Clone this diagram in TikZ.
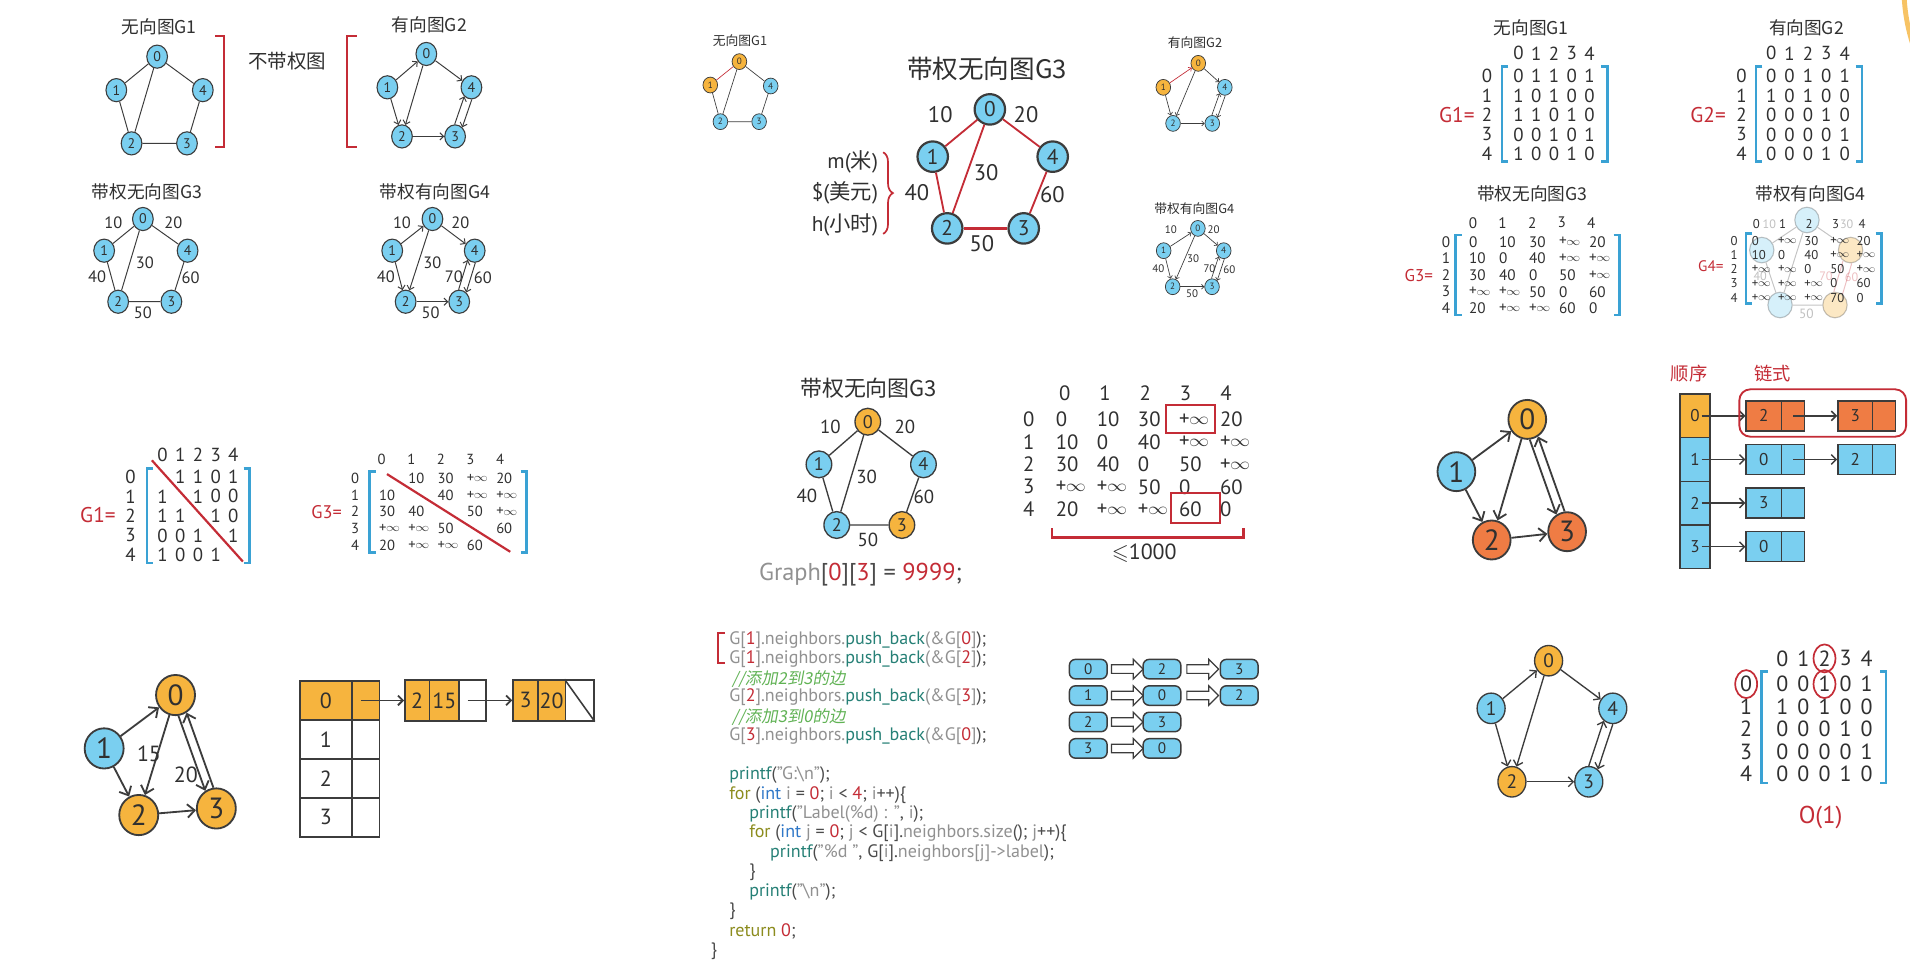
\documentclass[tikz,border=0pt]{standalone}
\usepackage{fontspec}
\usepackage{amssymb}
\usepackage{graphicx}
\setmainfont{PT Sans}
\newfontfamily\cjk{Noto Sans CJK SC}
\newfontfamily\cjki[FakeSlant=0.18]{Noto Sans CJK SC}
\usetikzlibrary{arrows.meta,shapes.geometric,shapes.arrows,calc,decorations.pathreplacing}
\definecolor{nb}{RGB}{122,207,240}
\definecolor{no}{RGB}{246,180,62}
\definecolor{nr}{RGB}{239,124,68}
\definecolor{rd}{RGB}{196,44,54}
\definecolor{bb}{RGB}{58,162,212}
\definecolor{tx}{RGB}{48,48,48}
\definecolor{ln}{RGB}{60,60,60}
\definecolor{cgr}{RGB}{145,145,145}
\definecolor{ctl}{RGB}{38,128,118}
\definecolor{cgn}{RGB}{96,178,84}
\definecolor{cbl}{RGB}{48,120,200}
\definecolor{col}{RGB}{140,140,30}
\definecolor{cdk}{RGB}{75,75,75}
\newcommand\fsz[1]{\fontsize{#1}{#1}\selectfont}
\newcommand\pinf{+\kern-0.3pt\raisebox{0.1ex}{\scalebox{0.95}[0.8]{$\infty$}}}
\newcommand\bl{}
\newcommand\kG[1]{\textcolor{cgr}{#1}}
\newcommand\kR[1]{\textcolor{rd}{#1}}
\newcommand\kT[1]{\textcolor{ctl}{#1}}
\newcommand\kB[1]{\textcolor{cbl}{#1}}
\newcommand\kO[1]{\textcolor{col}{#1}}
\newcommand\kD[1]{\textcolor{cdk}{#1}}
\newcommand\mtx[6]{%
  \foreach \rw [count=\ri from 0] in {#6}{%
    \foreach \ee [count=\ci from 0] in \rw {%
      \node[mc] (#1\ri\ci) at ({#2+\ci*#3},{#4+\ri*#5}) {\ee};
    }%
  }%
}
\newcommand\hdr[7]{%
  \foreach \kk in {0,...,4}{%
    \node[mh] (#1c\kk) at ({#2+\kk*#3},#4) {\kk};
    \node[mh] (#1r\kk) at (#5,{#6+\kk*#7}) {\kk};
  }%
}
\newcommand\brk[4]{\draw[bb,line width=2pt] ({#1+5},#3)--(#1,#3)--(#1,#4)--({#1+5},#4) ({#2-5},#3)--(#2,#3)--(#2,#4)--({#2-5},#4);}
\begin{document}
\begin{tikzpicture}[x=1pt,y=-1pt,
  gA/.style={ellipse,draw=ln,fill=nb,line width=0.9pt,minimum width=17pt,minimum height=19pt,inner sep=0pt,font=\fsz{11.5},text=tx},
  gS/.style={ellipse,draw=ln,fill=nb,line width=0.6pt,minimum width=12pt,minimum height=13pt,inner sep=0pt,font=\fsz{7.5},text=tx},
  gB/.style={circle,draw=ln,fill=nb,line width=1.8pt,minimum size=25pt,inner sep=0pt,font=\fsz{17.5},text=tx},
  gM/.style={ellipse,draw=ln,fill=nb,line width=1.1pt,minimum width=21pt,minimum height=22pt,inner sep=0pt,font=\fsz{15},text=tx},
  gL/.style={ellipse,draw=ln,fill=nb,line width=1.5pt,minimum width=31pt,minimum height=32pt,inner sep=0pt,font=\fsz{24},text=tx},
  gR/.style={ellipse,draw=ln,fill=nb,line width=1.1pt,minimum width=23pt,minimum height=25pt,inner sep=0pt,font=\fsz{16},text=tx},
  eA/.style={draw=ln,line width=0.8pt},
  eS/.style={draw=ln,line width=0.55pt},
  eM/.style={draw=ln,line width=1.1pt},
  eL/.style={draw=ln,line width=1.5pt},
  arS/.style={-{Straight Barb[length=2pt,width=4pt]}},
  arA/.style={-{Straight Barb[length=3pt,width=6pt]}},
  arM/.style={-{Straight Barb[length=4pt,width=8pt]}},
  arL/.style={-{Straight Barb[length=6pt,width=11pt]}},
  lab/.style={inner sep=0pt,text=tx,font=\fsz{13.5}},
  ttl/.style={inner sep=0pt,text=tx,font=\cjk\fsz{14.5}},
  eq/.style={inner sep=0pt,text=rd,font=\fsz{17.5}}]
\useasboundingbox (0,0) rectangle (1568,800);
\fill[white] (0,0) rectangle (1568,800);
\begin{scope}
\clip (0,0) rectangle (1568,800);
\draw[no,line width=4pt,opacity=0.8] (1713,-10) circle (150);
\end{scope}

% ================= Panel A: four graphs top-left
\node[ttl] (tA1) at (130.7,21.9) {无向图G1};
\node[ttl] (tA2) at (352.5,20.5) {有向图G2};
\node[ttl,font=\cjk\fsz{16}] (tA0) at (236,50.6) {不带权图};
\draw[rd,line width=1.6pt] (176.6,29.6)--(183.8,29.6)--(183.8,120.4)--(176.6,120.4);
\draw[rd,line width=1.6pt] (293,29.6)--(284.8,29.6)--(284.8,120.4)--(293,120.4);
\node[gA] (a0) at (129,46.5) {0};
\node[gA] (a1) at (95.5,74) {1};
\node[gA] (a4) at (166.5,74) {4};
\node[gA] (a2) at (108,117.7) {2};
\node[gA] (a3) at (153.5,117.7) {3};
\draw[eA] (a0)--(a1) (a0)--(a4) (a0)--(a2) (a1)--(a2) (a2)--(a3) (a3)--(a4);
\node[gA] (b0) at (350,44.3) {0};
\node[gA] (b1) at (318,71.7) {1};
\node[gA] (b4) at (387,71.7) {4};
\node[gA] (b2) at (330,112) {2};
\node[gA] (b3) at (373.6,112) {3};
\draw[eA,arA] (b1)--(b0);
\draw[eA,arA] (b0)--(b4);
\draw[eA,arA] (b0)--(b2);
\draw[eA,arA] (b1)--(b2);
\draw[eA,arA] (b2)--(b3);
\draw[eA,arA] (b3.92)--(b4.232);
\draw[eA,arA] (b4.272)--(b3.52);
\node[ttl] (tA3) at (120.6,157.4) {带权无向图G3};
\node[gA] (c0) at (117.3,179.8) {0};
\node[gA] (c1) at (85.5,205.8) {1};
\node[gA] (c4) at (154,205.8) {4};
\node[gA] (c2) at (97,247.7) {2};
\node[gA] (c3) at (140.7,247.7) {3};
\draw[eA] (c0)--(c1) (c0)--(c4) (c0)--(c2) (c1)--(c2) (c2)--(c3) (c3)--(c4);
\node[lab] (lc01) at (93,182.8) {10};
\node[lab] (lc04) at (142.4,182.8) {20};
\node[lab] (lc02) at (119,216) {30};
\node[lab] (lc12) at (79.8,227) {40};
\node[lab] (lc34) at (156.5,227.7) {60};
\node[lab] (lc23) at (117.3,256.5) {50};
\node[ttl] (tA4) at (357,157.4) {带权有向图G4};
\node[gA] (d0) at (355,179.8) {0};
\node[gA] (d1) at (322,205.8) {1};
\node[gA] (d4) at (389.7,205.8) {4};
\node[gA] (d2) at (333,247.7) {2};
\node[gA] (d3) at (377,247.7) {3};
\draw[eA,arA] (d1)--(d0);
\draw[eA,arA] (d0)--(d4);
\draw[eA,arA] (d0)--(d2);
\draw[eA,arA] (d1)--(d2);
\draw[eA,arA] (d2)--(d3);
\draw[eA,arA] (d3.93)--(d4.233);
\draw[eA,arA] (d4.273)--(d3.53);
\node[lab] (ld10) at (330,182.8) {10};
\node[lab] (ld04) at (378,182.8) {20};
\node[lab] (ld02) at (355,216) {30};
\node[lab] (ld12) at (316.7,227) {40};
\node[lab] (ld34) at (372.6,227) {70};
\node[lab] (ld43) at (396.4,227.7) {60};
\node[lab] (ld23) at (353.5,256.5) {50};

% ================= Panel B: top-middle
\node[ttl,font=\cjk\fsz{10.5}] (tB1) at (607.5,33.7) {无向图G1};
\node[gS,fill=no] (e0) at (607,50.6) {0};
\node[gS,fill=no] (e1) at (583.1,69.8) {1};
\node[gS] (e4) at (632.7,70.6) {4};
\node[gS] (e2) at (591.4,99.9) {2};
\node[gS] (e3) at (623.2,99.9) {3};
\draw[eS,draw=rd] (e0)--(e1);
\draw[eS] (e0)--(e4) (e0)--(e2) (e1)--(e2) (e2)--(e3) (e3)--(e4);

\node[ttl,font=\cjk\fsz{21}] (tB3) at (810.3,56.6) {带权无向图G3};
\node[gB] (f0) at (812.6,89.8) {0};
\node[gB] (f1) at (765.7,128.6) {1};
\node[gB] (f4) at (864.2,128.6) {4};
\node[gB] (f2) at (777.6,187.5) {2};
\node[gB] (f3) at (840.4,187.5) {3};
\draw[rd,line width=1.5pt] (f0)--(f1) (f0)--(f4) (f0)--(f2) (f1)--(f2) (f3)--(f4);
\draw[rd,line width=2.6pt] (f2)--(f3);
\node[lab,font=\fsz{18.5}] (lf01) at (771.9,94.4) {10};
\node[lab,font=\fsz{18.5}] (lf04) at (842.3,94.4) {20};
\node[lab,font=\fsz{18.5}] (lf02) at (809.6,141.8) {30};
\node[lab,font=\fsz{18.5}] (lf12) at (752.7,158.2) {40};
\node[lab,font=\fsz{18.5}] (lf34) at (864,160) {60};
\node[lab,font=\fsz{18.5}] (lf23) at (806,199.8) {50};
\node[lab,font=\fsz{17.5},anchor=east] (u1) at (721,132.7) {m({\cjk 米})};
\node[lab,font=\fsz{17.5},anchor=east] (u2) at (721,158.2) {\$({\cjk 美元})};
\node[lab,font=\fsz{17.5},anchor=east] (u3) at (721,184.7) {h({\cjk 小时})};
\draw[rd,line width=1.4pt,decorate,decoration={brace,amplitude=8pt}] (725,125) -- (725,192);

\node[ttl,font=\cjk\fsz{10.5}] (tB2) at (981,34.8) {有向图G2};
\node[gS,fill=no] (g0) at (983.7,52) {0};
\node[gS,fill=no] (g1) at (955,71.7) {1};
\node[gS] (g4) at (1005.5,71.7) {4};
\node[gS] (g2) at (963,101.3) {2};
\node[gS] (g3) at (995.2,101.3) {3};
\draw[eS,draw=rd,arS] (g1)--(g0);
\draw[eS,arS] (g0)--(g4);
\draw[eS,arS] (g0)--(g2);
\draw[eS,arS] (g1)--(g2);
\draw[eS,arS] (g2)--(g3);
\draw[eS,arS] (g3.93)--(g4.229);
\draw[eS,arS] (g4.273)--(g3.49);

\node[ttl,font=\cjk\fsz{10.5}] (tB4) at (980.4,171) {带权有向图G4};
\node[gS] (h0) at (983.4,187.5) {0};
\node[gS] (h1) at (955.3,205.8) {1};
\node[gS] (h4) at (1004.6,205.8) {4};
\node[gS] (h2) at (962.7,235.4) {2};
\node[gS] (h3) at (995,235.4) {3};
\draw[eS,arS] (h1)--(h0);
\draw[eS,arS] (h0)--(h4);
\draw[eS,arS] (h0)--(h2);
\draw[eS,arS] (h1)--(h2);
\draw[eS,arS] (h2)--(h3);
\draw[eS,arS] (h3.94)--(h4.230);
\draw[eS,arS] (h4.274)--(h3.50);
\node[lab,font=\fsz{9}] (lh10) at (961.2,188.8) {10};
\node[lab,font=\fsz{9}] (lh04) at (996.3,188.8) {20};
\node[lab,font=\fsz{9}] (lh02) at (979.5,212) {30};
\node[lab,font=\fsz{9}] (lh12) at (951,220.3) {40};
\node[lab,font=\fsz{9}] (lh34) at (992.9,220.3) {70};
\node[lab,font=\fsz{9}] (lh43) at (1009.2,221) {60};
\node[lab,font=\fsz{9}] (lh23) at (978.7,241.4) {50};

% ================= Panel C: matrices top-right
\node[ttl] (tC1) at (1257,22.4) {无向图G1};
\node[ttl] (tC2) at (1483,22.4) {有向图G2};
\begin{scope}[mc/.style={inner sep=0pt,text=tx,font=\fsz{15.5}},mh/.style={inner sep=0pt,text=tx,font=\fsz{15.5}}]
\hdr{hA}{1246.5}{14.6}{43.8}{1220.8}{62.4}{16}
\mtx{mA}{1246.5}{14.6}{62.4}{16}{{0,1,1,0,1},{1,0,1,0,0},{1,1,0,1,0},{0,0,1,0,1},{1,0,0,1,0}}
\hdr{hB}{1454}{15.1}{43.8}{1429.6}{62.4}{16}
\mtx{mB}{1454}{15.1}{62.4}{16}{{0,0,1,0,1},{1,0,1,0,0},{0,0,0,1,0},{0,0,0,0,1},{0,0,0,1,0}}
\end{scope}
\node[eq] (qA) at (1196,94.4) {G1=};
\node[eq] (qB) at (1402.2,94.4) {G2=};
\brk{1233}{1319.7}{54.7}{132.7}
\brk{1441.7}{1528.6}{54.7}{132.7}

\node[ttl] (tC3) at (1258,158.7) {带权无向图G3};
\begin{scope}[mc/.style={anchor=west,inner sep=0pt,text=tx,font=\fsz{12.5}},mh/.style={inner sep=0pt,text=tx,font=\fsz{12.5}}]
\hdr{hC}{1209.2}{24.3}{182.8}{1187.1}{198.4}{13.7}
\mtx{mC}{1205.9}{24.6}{198.4}{13.7}{{0,10,30,\pinf,20},{10,0,40,\pinf,\pinf},{30,40,0,50,\pinf},{\pinf,\pinf,50,0,60},{20,\pinf,\pinf,60,0}}
\end{scope}
\node[eq,font=\fsz{14}] (qC) at (1164.7,225.8) {G3=};
\brk{1195}{1329.6}{193}{258.6}

\node[ttl] (tC4) at (1486.3,158.7) {带权有向图G4};
\begin{scope}[opacity=0.3]
\node[gA,minimum width=20pt,minimum height=21pt] (z0) at (1483.4,180.6) {};
\node[gA,minimum width=20pt,minimum height=21pt] (z1) at (1446.3,205.3) {};
\node[gA,fill=no,minimum width=20pt,minimum height=21pt] (z4) at (1519.2,205.3) {};
\node[gA,minimum width=20pt,minimum height=21pt] (z2) at (1461.3,250.4) {};
\node[gA,fill=no,minimum width=20pt,minimum height=21pt] (z3) at (1506.4,250.4) {};
\draw[eA] (z1)--(z0) (z0)--(z4) (z0)--(z2) (z1)--(z2) (z2)--(z3);
\draw[eA,draw=rd] (z3.95)--(z4.235) (z4.275)--(z3.55);
\node[lab,font=\fsz{11}] (zl50) at (1483,258) {50};
\node[lab,font=\fsz{10}] (zl40) at (1445,227) {40};
\node[lab,font=\fsz{10},text=rd] (zl70) at (1499,227) {70};
\node[lab,font=\fsz{10},text=rd] (zl60) at (1520,228) {60};
\node[lab,font=\fsz{10}] (zl10) at (1452.5,184) {10};
\node[lab,font=\fsz{10}] (zl30) at (1516,184) {30};
\end{scope}
\begin{scope}[mc/.style={anchor=west,inner sep=0pt,text=tx,font=\fsz{10.5}},mh/.style={inner sep=0pt,text=tx,font=\fsz{10.5}}]
\hdr{hD}{1441.8}{21.7}{183.9}{1423.6}{197.6}{11.7}
\mtx{mD}{1438}{21.5}{197.6}{11.7}{{0,\pinf,30,\pinf,20},{10,0,40,\pinf,\pinf},{\pinf,\pinf,0,50,\pinf},{\pinf,\pinf,\pinf,0,60},{\pinf,\pinf,\pinf,70,0}}
\end{scope}
\node[eq,font=\fsz{12.5}] (qD) at (1404.5,218.9) {G4=};
\brk{1433.5}{1544.7}{191.6}{249}

% ================= Panel D: diagonal matrices middle-left
\begin{scope}[mc/.style={inner sep=0pt,text=tx,font=\fsz{15.5}},mh/.style={inner sep=0pt,text=tx,font=\fsz{15.5}}]
\hdr{hE}{133.4}{14.55}{373.6}{107.2}{391.4}{16.05}
\mtx{mE}{133.4}{14.55}{391.4}{16.05}{{\bl,1,1,0,1},{1,\bl,1,0,0},{1,1,\bl,1,0},{0,0,1,\bl,1},{1,0,0,1,\bl}}
\end{scope}
\node[eq] (qE) at (80.4,422.8) {G1=};
\brk{120.6}{205}{384.5}{462}
\draw[rd,line width=1.8pt] (124.7,377.9)--(199.4,461);
\begin{scope}[mc/.style={anchor=west,inner sep=0pt,text=tx,font=\fsz{12}},mh/.style={inner sep=0pt,text=tx,font=\fsz{12}}]
\hdr{hF}{313.3}{24.3}{376.9}{291.5}{392.7}{13.7}
\mtx{mF}{311}{24.05}{392.7}{13.7}{{\bl,10,30,\pinf,20},{10,\bl,40,\pinf,\pinf},{30,40,\bl,50,\pinf},{\pinf,\pinf,50,\bl,60},{20,\pinf,\pinf,60,\bl}}
\end{scope}
\node[eq,font=\fsz{15}] (qF) at (268.1,420.6) {G3=};
\brk{303.3}{432.3}{387.2}{453.4}
\draw[rd,line width=1.8pt] (317.7,389.2)--(418.9,453);

% ================= Panel E: middle
\node[ttl,font=\cjk\fsz{18}] (tE) at (713.1,318.8) {带权无向图G3};
\node[gM,fill=no] (k0) at (712.4,346.2) {0};
\node[gM] (k1) at (672.3,381.2) {1};
\node[gM] (k4) at (758.1,381.2) {4};
\node[gM] (k2) at (686.9,431) {2};
\node[gM,fill=no] (k3) at (740.4,431) {3};
\draw[eM] (k0)--(k1) (k0)--(k4) (k0)--(k2) (k1)--(k2) (k2)--(k3) (k3)--(k4);
\node[lab,font=\fsz{15.5}] (lk01) at (681.7,350.8) {10};
\node[lab,font=\fsz{15.5}] (lk04) at (742.9,350.8) {20};
\node[lab,font=\fsz{15.5}] (lk02) at (711.4,391.4) {30};
\node[lab,font=\fsz{15.5}] (lk12) at (662.4,407.5) {40};
\node[lab,font=\fsz{15.5}] (lk34) at (758.4,408) {60};
\node[lab,font=\fsz{15.5}] (lk23) at (712.4,443.5) {50};
\node[inner sep=0pt,font=\fsz{20}] (gph) at (706.4,472) {\kG{Graph}\kD{[}\kR{0}\kD{][}\kR{3}\kD{]} \kD{=} \kR{9999}\kD{;}};
\begin{scope}[mc/.style={anchor=west,inner sep=0pt,text=tx,font=\fsz{17}},mh/.style={inner sep=0pt,text=tx,font=\fsz{17}}]
\hdr{hG}{874}{33.1}{322.9}{844.5}{344.3}{18.45}
\mtx{mG}{866.6}{33.7}{344.3}{18.45}{{0,10,30,\pinf,20},{10,0,40,\pinf,\pinf},{30,40,0,50,\pinf},{\pinf,\pinf,50,0,60},{20,\pinf,\pinf,60,0}}
\end{scope}
\draw[rd,line width=1.8pt] (957,332.5) rectangle (997.3,355.3);
\draw[rd,line width=1.8pt] (961.1,405) rectangle (1001.3,429.1);
\draw[rd,line width=1.8pt] (863.9,433.8)--(863.9,441.2)--(1020.8,441.2)--(1020.8,433.8);
\node[inner sep=0pt,text=tx,font=\fsz{18}] (le) at (939.3,454) {$\leqslant$1000};

% ================= Panel F: middle-right
\node[gL,fill=no] (m0) at (1253.8,344.3) {0};
\node[gL] (m1) at (1195.6,387.2) {1};
\node[gL,fill=nr] (m2) at (1224.6,443.3) {2};
\node[gL,fill=nr] (m3) at (1286.5,436.5) {3};
\draw[eL,arL] (m1)--(m0);
\draw[eL,arL] (m1)--(m2);
\draw[eL,arL] (m0)--(m2);
\draw[eL,arL] (m2)--(m3);
\draw[eL,arL] (m0.277)--(m3.122);
\draw[eL,arL] (m3.97)--(m0.302);
\node[inner sep=0pt,text=rd,font=\cjk\fsz{15}] (sx1) at (1386.7,306.5) {顺序};
\node[inner sep=0pt,text=rd,font=\cjk\fsz{15}] (sx2) at (1455,306.5) {链式};
\begin{scope}[ac/.style={rectangle,draw=ln,line width=1.2pt,minimum width=24.8pt,minimum height=35.8pt,inner sep=0pt,font=\fsz{14},text=tx,fill=nb},
 lk/.style={rectangle,draw=ln,line width=1.2pt,minimum height=24.6pt,inner sep=0pt,font=\fsz{14},text=tx,fill=nb}]
\node[ac,fill=no] (v0) at (1391.5,341.4) {0};
\node[ac] (v1) at (1391.5,377.2) {1};
\node[ac] (v2) at (1391.5,413) {2};
\node[ac] (v3) at (1391.5,448.8) {3};
\node[lk,fill=nr,minimum width=29.1pt] (w01a) at (1448,341.4) {2};
\node[lk,fill=nr,minimum width=18.8pt] (w01b) at (1472,341.4) {};
\node[lk,fill=nr,minimum width=28.6pt] (w02a) at (1523.1,341.4) {3};
\node[lk,fill=nr,minimum width=18.8pt] (w02b) at (1546.8,341.4) {};
\node[lk,minimum width=29.1pt] (w11a) at (1448,377.2) {0};
\node[lk,minimum width=18.8pt] (w11b) at (1472,377.2) {};
\node[lk,minimum width=28.6pt] (w12a) at (1523.1,377.2) {2};
\node[lk,minimum width=18.8pt] (w12b) at (1546.8,377.2) {};
\node[lk,minimum width=29.1pt] (w21a) at (1448,413) {3};
\node[lk,minimum width=18.8pt] (w21b) at (1472,413) {};
\node[lk,minimum width=29.1pt] (w31a) at (1448,448.8) {0};
\node[lk,minimum width=18.8pt] (w31b) at (1472,448.8) {};
\end{scope}
\draw[draw=ln,line width=1.2pt,arM] ([xshift=5.5pt]v0.center)--(w01a.west);
\draw[draw=ln,line width=1.2pt,arM] ([xshift=5.5pt]v1.center)--(w11a.west);
\draw[draw=ln,line width=1.2pt,arM] ([xshift=5.5pt]v2.center)--(w21a.west);
\draw[draw=ln,line width=1.2pt,arM] ([xshift=5.5pt]v3.center)--(w31a.west);
\draw[draw=ln,line width=1.2pt,arM] (w01b.center)--(w02a.west);
\draw[draw=ln,line width=1.2pt,arM] (w11b.center)--(w12a.west);
\draw[rd,line width=1.5pt,rounded corners=9pt] (1427.9,319.6) rectangle (1564.8,358.5);

% ================= Panel G: bottom-left
\node[gL,fill=no,minimum width=32pt,minimum height=33pt] (p0) at (144.1,570.6) {0};
\node[gL,minimum width=32pt,minimum height=33pt] (p1) at (85.5,614.4) {1};
\node[gL,fill=no,minimum width=32pt,minimum height=33pt] (p2) at (113.9,669.1) {2};
\node[gL,fill=no,minimum width=32pt,minimum height=33pt] (p3) at (177.6,663.7) {3};
\draw[eL,arL] (p1)--(p0);
\draw[eL,arL] (p1)--(p2);
\draw[eL,arL] (p0)--(p2);
\draw[eL,arL] (p2)--(p3);
\draw[eL,arL] (p0.278)--(p3.122);
\draw[eL,arL] (p3.98)--(p0.302);
\node[lab,font=\fsz{18}] (lp15) at (122.3,618.5) {15};
\node[lab,font=\fsz{18}] (lp20) at (152.5,635.7) {20};
\begin{scope}[tc/.style={rectangle,draw=ln,line width=1.3pt,minimum height=32pt,inner sep=0pt,font=\fsz{18},text=tx,fill=white}]
\node[tc,fill=no,minimum width=42.6pt] (t0a) at (267.6,575) {0};
\node[tc,fill=no,minimum width=22.8pt] (t0b) at (300.3,575) {};
\node[tc,minimum width=42.6pt] (t1a) at (267.6,607) {1};
\node[tc,minimum width=22.8pt] (t1b) at (300.3,607) {};
\node[tc,minimum width=42.6pt] (t2a) at (267.6,639) {2};
\node[tc,minimum width=22.8pt] (t2b) at (300.3,639) {};
\node[tc,minimum width=42.6pt] (t3a) at (267.6,671) {3};
\node[tc,minimum width=22.8pt] (t3b) at (300.3,671) {};
\node[tc,fill=no,minimum width=20.1pt,minimum height=33.4pt] (y1a) at (342.45,575) {2};
\node[tc,fill=no,minimum width=24.5pt,minimum height=33.4pt] (y1b) at (364.75,575) {15};
\node[tc,minimum width=21.8pt,minimum height=33.4pt] (y1c) at (387.9,575) {};
\node[tc,fill=no,minimum width=20.5pt,minimum height=33.4pt] (y2a) at (431.45,575) {3};
\node[tc,fill=no,minimum width=22.4pt,minimum height=33.4pt] (y2b) at (452.9,575) {20};
\node[tc,minimum width=23.5pt,minimum height=33.4pt] (y2c) at (475.85,575) {};
\end{scope}
\draw[ln,line width=1.3pt] (y2c.north west)--(y2c.south east);
\draw[eL,arM] ([xshift=-4pt]t0b.center)--(y1a.west);
\draw[eL,arM] ([xshift=-4pt]y1c.center)--(y2a.west);

% ================= Panel H: code
\draw[rd,line width=1.8pt] (595,519.4)--(589.7,519.4)--(589.7,544.6)--(595,544.6);
\begin{scope}[cl/.style={anchor=west,inner sep=0pt,font=\fsz{14.8}}]
\node[cl] (L1) at (598.5,525.5) {\kG{G[}\kR{1}\kG{].neighbors.}\kT{push\_back}\kG{(\&G[}\kR{0}\kG{]}\kD{);}};
\node[cl] (L2) at (598.5,541.3) {\kG{G[}\kR{1}\kG{].neighbors.}\kT{push\_back}\kG{(\&G[}\kR{2}\kG{]}\kD{);}};
\node[cl] (L3) at (600.8,557.7) {\cjki\fsz{13.5}\textcolor{cgn}{//添加2到3的边}};
\node[cl] (L4) at (598.5,572.3) {\kG{G[}\kR{2}\kG{].neighbors.}\kT{push\_back}\kG{(\&G[}\kR{3}\kG{]}\kD{);}};
\node[cl] (L5) at (600.8,588.6) {\cjki\fsz{13.5}\textcolor{cgn}{//添加3到0的边}};
\node[cl] (L6) at (598.5,604.5) {\kG{G[}\kR{3}\kG{].neighbors.}\kT{push\_back}\kG{(\&G[}\kR{0}\kG{]}\kD{);}};
\node[cl] (L8) at (598.5,636.5) {\kT{printf}\kD{(}\kG{"G:\textbackslash n"}\kD{);}};
\node[cl] (L9) at (598.5,652.4) {\kO{for} \kD{(}\kB{int} \kG{i} \kD{=} \kR{0}\kD{;} \kG{i} \kD{<} \kR{4}\kD{;} \kG{i}\kD{++)\{}};
\node[cl] (L10) at (614.9,668) {\kT{printf}\kD{(}\kG{"Label(\%d) : "}\kD{,} \kG{i}\kD{);}};
\node[cl] (L11) at (614.9,683.9) {\kO{for} \kD{(}\kB{int} \kG{j} \kD{=} \kR{0}\kD{;} \kG{j} \kD{<} \kD{G[}\kG{i}\kD{].}\kG{neighbors.size}\kD{();} \kG{j}\kD{++)\{}};
\node[cl] (L12) at (632.1,700.3) {\kT{printf}\kD{(}\kG{"\%d "}\kD{,} \kD{G[}\kG{i}\kD{].}\kG{neighbors[j]->label}\kD{);}};
\node[cl] (L13) at (614.9,715.9) {\kD{\}}};
\node[cl] (L14) at (614.9,732.4) {\kT{printf}\kD{(}\kG{"\textbackslash n"}\kD{);}};
\node[cl] (L15) at (598.5,748.2) {\kD{\}}};
\node[cl] (L16) at (598.5,764.6) {\kO{return} \kR{0}\kD{;}};
\node[cl] (L17) at (583.4,781) {\kD{\}}};
\end{scope}

% ================= Panel I: adjacency boxes
\begin{scope}[lb/.style={rectangle,rounded corners=5pt,draw=ln,line width=1.2pt,fill=nb,minimum width=31pt,minimum height=16pt,inner sep=0pt,font=\fsz{12.5},text=tx},
 ha/.style={single arrow,draw=ln,fill=white,line width=1pt,minimum height=26pt,inner sep=3pt,single arrow head extend=4.5pt,single arrow head indent=0pt}]
\node[lb] (q00) at (893.4,549.3) {0};
\node[lb] (q01) at (953.9,549.3) {2};
\node[lb] (q02) at (1017.3,549.3) {3};
\node[lb] (q10) at (893.4,571) {1};
\node[lb] (q11) at (953.9,571) {0};
\node[lb] (q12) at (1017.3,571) {2};
\node[lb] (q20) at (893.4,592.7) {2};
\node[lb] (q21) at (953.9,592.7) {3};
\node[lb] (q30) at (893.4,614.4) {3};
\node[lb] (q31) at (953.9,614.4) {0};
\node[ha] (x00) at ($(q00.east)!0.5!(q01.west)$) {};
\node[ha] (x01) at ($(q01.east)!0.5!(q02.west)$) {};
\node[ha] (x10) at ($(q10.east)!0.5!(q11.west)$) {};
\node[ha] (x11) at ($(q11.east)!0.5!(q12.west)$) {};
\node[ha] (x20) at ($(q20.east)!0.5!(q21.west)$) {};
\node[ha] (x30) at ($(q30.east)!0.5!(q31.west)$) {};
\end{scope}

% ================= Panel J: bottom-right
\node[gR,fill=no] (r0) at (1271.3,542.4) {0};
\node[gR] (r1) at (1224.1,581.5) {1};
\node[gR] (r4) at (1324,581.5) {4};
\node[gR,fill=no] (r2) at (1241.2,641.8) {2};
\node[gR] (r3) at (1304.3,641.8) {3};
\draw[eM,arM] (r1)--(r0);
\draw[eM,arM] (r0)--(r4);
\draw[eM,arM] (r0)--(r2);
\draw[eM,arM] (r1)--(r2);
\draw[eM,arM] (r2)--(r3);
\draw[eM,arM] (r3.90)--(r4.234);
\draw[eM,arM] (r4.270)--(r3.54);
\begin{scope}[mc/.style={inner sep=0pt,text=tx,font=\fsz{18}},mh/.style={inner sep=0pt,text=tx,font=\fsz{18}}]
\hdr{hH}{1463.2}{17.3}{540.5}{1433.5}{561.6}{18.45}
\mtx{mH}{1463.2}{17.3}{561.6}{18.45}{{0,0,1,0,1},{1,0,1,0,0},{0,0,0,1,0},{0,0,0,0,1},{0,0,0,1,0}}
\end{scope}
\brk{1446.1}{1548.4}{551.4}{643}
\draw[rd,line width=1.4pt] (hHc2) ellipse (9 and 11.5);
\draw[rd,line width=1.4pt] (mH02) ellipse (9 and 11.5);
\draw[rd,line width=1.4pt] (hHr0) ellipse (9 and 11.5);
\node[inner sep=0pt,text=rd,font=\fsz{20}] (o1) at (1494.6,671) {O(1)};
\end{tikzpicture}
\end{document}
